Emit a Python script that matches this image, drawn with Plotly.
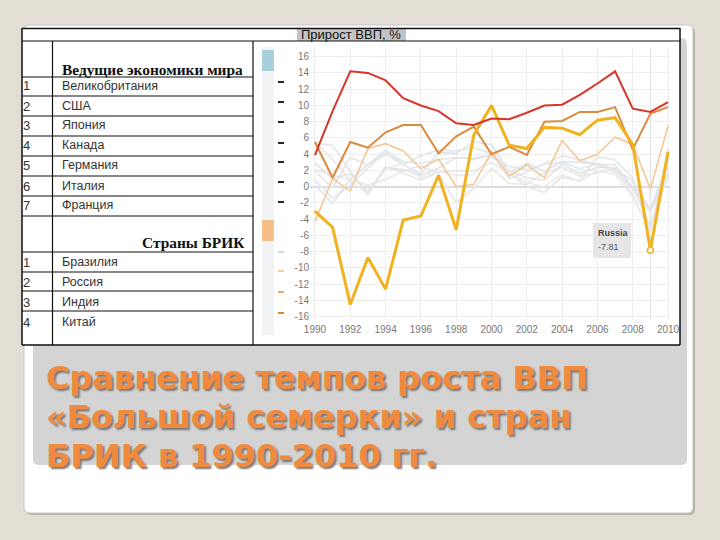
import plotly.graph_objects as go

# ---------------- data ----------------
years = list(range(1990, 2011))

china = [3.9, 9.3, 14.2, 14.0, 13.1, 10.9, 10.0, 9.3, 7.8, 7.6, 8.4, 8.3, 9.1, 10.0, 10.1, 11.3, 12.7, 14.2, 9.6, 9.2, 10.4]
india = [5.5, 1.1, 5.5, 4.8, 6.7, 7.6, 7.6, 4.1, 6.2, 7.4, 4.0, 4.9, 3.9, 8.0, 8.1, 9.2, 9.2, 9.8, 4.6, 9.0, 9.8]
russia = [-3.0, -5.0, -14.5, -8.7, -12.6, -4.1, -3.6, 1.4, -5.3, 6.4, 10.0, 5.1, 4.7, 7.3, 7.2, 6.4, 8.2, 8.5, 5.2, -7.81, 4.3]
brazil = [-4.3, 1.0, -0.5, 4.7, 5.3, 4.4, 2.2, 3.4, 0.0, 0.3, 4.3, 1.3, 2.7, 1.1, 5.7, 3.2, 4.0, 6.1, 5.2, -0.3, 7.5]

uk = [0.8, -1.4, 0.2, 2.2, 4.3, 3.1, 2.9, 3.3, 3.6, 3.5, 3.9, 2.5, 2.1, 2.8, 3.0, 2.2, 2.8, 2.7, -0.1, -4.9, 1.3]
usa = [1.9, -0.1, 3.6, 2.7, 4.0, 2.7, 3.8, 4.5, 4.4, 4.8, 4.1, 1.0, 1.8, 2.8, 3.8, 3.3, 2.7, 1.8, -0.3, -2.8, 2.5]
japan = [5.6, 3.3, 0.8, 0.2, 0.9, 1.9, 2.6, 1.6, -2.0, -0.2, 2.3, 0.4, 0.3, 1.7, 2.4, 1.3, 1.7, 2.2, -1.0, -5.5, 4.7]
canada = [0.2, -2.1, 0.9, 2.7, 4.5, 2.7, 1.6, 4.2, 4.1, 5.5, 5.2, 1.8, 2.9, 1.9, 3.1, 3.0, 2.8, 2.2, 0.7, -2.8, 3.2]
germany = [5.3, 5.1, 1.9, -1.0, 2.5, 1.7, 0.8, 1.8, 2.0, 1.9, 3.0, 1.7, 0.0, -0.7, 1.2, 0.7, 3.7, 3.3, 1.1, -5.6, 4.1]
italy = [2.0, 1.5, 0.8, -0.9, 2.2, 2.9, 1.1, 1.9, 1.4, 1.5, 3.7, 1.8, 0.5, 0.0, 1.5, 0.7, 2.0, 1.5, -1.3, -5.5, 1.7]
france = [2.9, 1.0, 1.6, -0.6, 2.3, 2.1, 1.4, 2.3, 3.6, 3.4, 3.9, 2.0, 1.1, 0.8, 2.8, 1.6, 2.4, 2.3, -0.1, -3.1, 1.7]

g7_names = ["Великобритания", "США", "Япония", "Канада", "Германия", "Италия", "Франция"]
bric_names = ["Бразилия", "Россия", "Индия", "Китай"]
g7_header = "Ведущие экономики мира"
bric_header = "Страны БРИК"
chart_title = "Прирост ВВП, %"
title_lines = ["Сравнение темпов роста ВВП", "«Большой семерки» и стран", "БРИК в 1990-2010 гг."]
y_tick_vals = list(range(-16, 17, 2))
x_tick_vals = list(range(1990, 2011, 2))
tooltip_country = "Russia"
hover_year = 2009

# ---------------- helpers ----------------
W, H = 720, 540


def px(x):
    return x / W


def py(y):
    return 1 - y / H


def rounded(x0, y0, x1, y1, r):
    pts = [
        ("M", [(x0 + r, y0)]), ("L", [(x1 - r, y0)]), ("Q", [(x1, y0), (x1, y0 + r)]),
        ("L", [(x1, y1 - r)]), ("Q", [(x1, y1), (x1 - r, y1)]), ("L", [(x0 + r, y1)]),
        ("Q", [(x0, y1), (x0, y1 - r)]), ("L", [(x0, y0 + r)]), ("Q", [(x0, y0), (x0 + r, y0)]),
    ]
    s = ""
    for cmd, ps in pts:
        s += cmd + " " + " ".join(f"{px(a):.5f},{py(b):.5f}" for a, b in ps) + " "
    return s + "Z"


shapes = []


def rect(x0, y0, x1, y1, fill=None, line=None, lw=1, layer="above"):
    shapes.append(dict(type="rect", xref="paper", yref="paper", x0=px(x0), x1=px(x1),
                       y0=py(y1), y1=py(y0), fillcolor=fill or "rgba(0,0,0,0)",
                       line=dict(color=line or "rgba(0,0,0,0)", width=lw if line else 0), layer=layer))


def hline(x0, x1, y, color="#111", w=1.2, layer="above"):
    shapes.append(dict(type="line", xref="paper", yref="paper", x0=px(x0), x1=px(x1), y0=py(y), y1=py(y),
                       line=dict(color=color, width=w), layer=layer))


def vline(x, y0, y1, color="#111", w=1.2, layer="above"):
    shapes.append(dict(type="line", xref="paper", yref="paper", x0=px(x), x1=px(x), y0=py(y0), y1=py(y1),
                       line=dict(color=color, width=w), layer=layer))


# ---------------- slide background ----------------
shapes.append(dict(type="path", xref="paper", yref="paper", path=rounded(26, 27, 695, 515, 6),
                   fillcolor="#b8b3aa", line=dict(width=0), layer="below"))
shapes.append(dict(type="path", xref="paper", yref="paper", path=rounded(24, 25, 693, 513, 6),
                   fillcolor="#ffffff", line=dict(color="#c8c8c8", width=1), layer="below"))
shapes.append(dict(type="path", xref="paper", yref="paper", path=rounded(33, 38, 687, 465, 6),
                   fillcolor="#d4d4d4", line=dict(width=0), layer="below"))
# table sheet
rect(22, 28, 680, 345, fill="#ffffff", layer="below")
rect(297, 29, 406, 41, fill="#c4c4c4", layer="below")

# table grid
hline(22, 680, 28.5, w=1.5)
hline(22, 680, 41)
hline(22, 680, 345, w=1.5)
vline(22, 28, 345, w=1.5)
vline(680, 28, 345, w=1.5)
vline(52.5, 41, 345)
vline(253, 41, 345)
for yy in [77, 96, 116, 136, 156, 176, 196, 216, 252, 272, 291, 311]:
    hline(22, 253, yy)

# legend strip of the embedded chart
rect(262, 47, 274, 335, fill="#f1f3f4", layer="below")
rect(262, 50, 274, 71, fill="#a9cfdb", layer="below")
rect(262, 220, 274, 241, fill="#f6be88", layer="below")
for yy in [82, 102, 122, 143, 162, 182, 202]:
    hline(278, 284, yy, color="#222", w=2)
for yy, c in zip([252, 271, 292, 313], ["#cfd6d8", "#f6cf9c", "#f2a661", "#e5812f"]):
    hline(278, 284, yy, color=c, w=2)

# tooltip box
rect(593, 223, 631, 258, fill="#e6e6e6", layer="above")

# hover guide line
shapes.append(dict(type="line", xref="x", yref="y domain", x0=hover_year, x1=hover_year, y0=0, y1=1,
                   line=dict(color="#dcdcdc", width=1), layer="below"))

# ---------------- traces ----------------
fig = go.Figure()
g7_series = [uk, usa, japan, canada, germany, italy, france]
g7_colors = ["#e0e8ef", "#e6e6e6", "#e8e8e8", "#dee6ed", "#e5e5e5", "#ebebeb", "#e3e3e3"]
for name, vals, col in zip(g7_names, g7_series, g7_colors):
    fig.add_trace(go.Scatter(x=years, y=vals, mode="lines", name=name,
                             line=dict(color=col, width=1.6), hoverinfo="skip"))

fig.add_trace(go.Scatter(x=years, y=brazil, mode="lines", name="Brazil",
                         line=dict(color="#f5c898", width=1.6), hoverinfo="skip"))
fig.add_trace(go.Scatter(x=years, y=india, mode="lines", name="India",
                         line=dict(color="#dc8a3c", width=2), hoverinfo="skip"))
fig.add_trace(go.Scatter(x=years, y=russia, mode="lines", name="Russia",
                         line=dict(color="#f1b21f", width=3), hoverinfo="skip"))
fig.add_trace(go.Scatter(x=years, y=china, mode="lines", name="China",
                         line=dict(color="#d8352a", width=2), hoverinfo="skip"))
hv = russia[years.index(hover_year)]
fig.add_trace(go.Scatter(x=[hover_year], y=[hv], mode="markers",
                         marker=dict(size=6, color="#ffffff", line=dict(color="#f1b21f", width=1.5)),
                         hoverinfo="skip"))

# ---------------- annotations ----------------
ann = []


def text(x, y, s, size=12, color="#222", family="Liberation Sans", xanchor="left", bold=False):
    ann.append(dict(x=px(x), y=py(y), xref="paper", yref="paper", text=f"<b>{s}</b>" if bold else s,
                    showarrow=False, xanchor=xanchor, yanchor="middle",
                    font=dict(size=size, color=color, family=family)))


text(351, 34, chart_title, size=13, color="#111", xanchor="center")
text(60, 69, g7_header, size=15.4, color="#111", family="Liberation Serif", bold=True)
for i, (n, yy) in enumerate(zip(g7_names, [86, 106, 125, 145, 165, 186, 205])):
    text(21, yy, str(i + 1), size=13, color="#333")
    text(60, yy, n, size=12.5, color="#333")
text(247, 243, bric_header, size=15.4, color="#111", family="Liberation Serif", xanchor="right", bold=True)
for i, (n, yy) in enumerate(zip(bric_names, [262, 282, 302, 322])):
    text(21, yy, str(i + 1), size=13, color="#333")
    text(60, yy, n, size=12.5, color="#333")

text(596, 233, tooltip_country, size=9, color="#444", bold=True)
text(596, 247, f"{hv:.2f}", size=9, color="#555")

for t, top in zip(title_lines, [357, 396, 434.5]):
    ann.append(dict(x=px(44), y=py(top), xref="paper", yref="paper", text=f"<b>{t}</b>",
                    showarrow=False, xanchor="left", yanchor="top", align="left",
                    font=dict(size=32, color="#f08a3e", family="DejaVu Sans",
                              shadow="2px 2px 2px #777777")))

# ---------------- layout ----------------
fig.update_layout(
    width=W, height=H, autosize=False,
    margin=dict(l=0, r=0, t=0, b=0, pad=0, autoexpand=False),
    paper_bgcolor="#e3ded4", plot_bgcolor="rgba(0,0,0,0)",
    showlegend=False, shapes=shapes, annotations=ann,
    xaxis=dict(domain=[px(310), px(670)], range=[1989.72, 2010.11], automargin=False,
               tickvals=x_tick_vals, ticktext=[str(v) for v in x_tick_vals],
               showgrid=True, gridcolor="#eeeeee", gridwidth=1, zeroline=False, showline=False,
               ticks="", ticklabelstandoff=2,
               tickfont=dict(size=10, color="#777", family="Liberation Sans"),
               fixedrange=True),
    yaxis=dict(domain=[py(320), py(48)], range=[-16.4, 17.07], automargin=False,
               tickvals=y_tick_vals, ticktext=[str(v) for v in y_tick_vals],
               showgrid=True, gridcolor="#eeeeee", gridwidth=1,
               zeroline=True, zerolinecolor="#dddddd", zerolinewidth=2, showline=False,
               ticks="", tickfont=dict(size=10, color="#777", family="Liberation Sans"),
               fixedrange=True),
)

fig.write_html("out.html", config={"displayModeBar": False},
               post_script="document.body.style.margin='0';document.body.style.overflow='hidden';")
